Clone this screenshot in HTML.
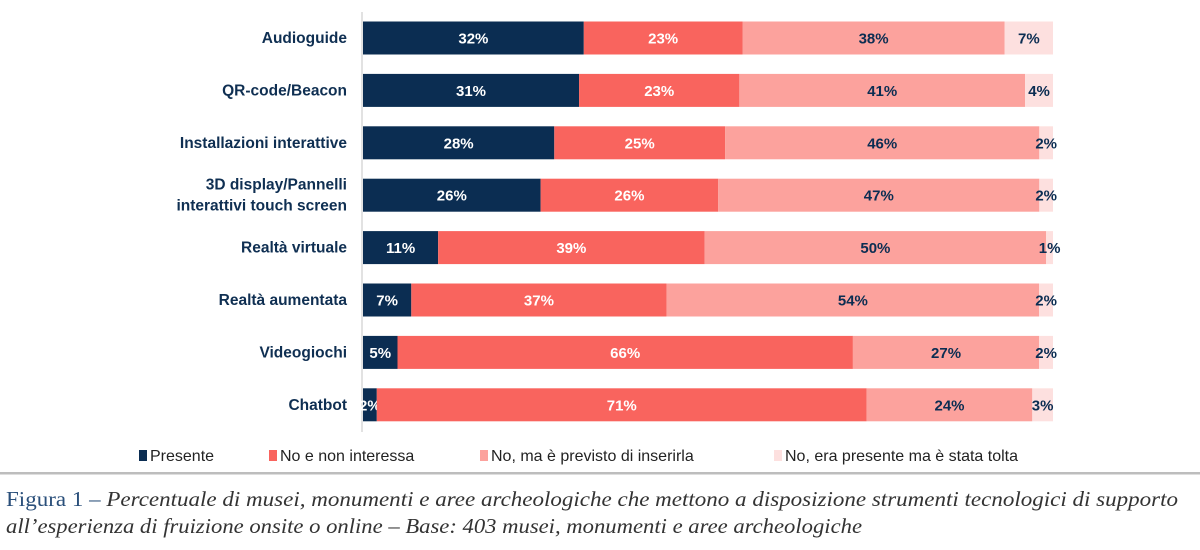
<!DOCTYPE html>
<html><head><meta charset="utf-8"><style>
html,body{margin:0;padding:0;background:#fff;width:1200px;height:550px;overflow:hidden}
svg text{font-family:"Liberation Sans",sans-serif}
</style></head><body>
<svg id="chart" width="1200" height="550"></svg>
<script>
const categories=["Audioguide","QR-code/Beacon","Installazioni interattive","3D display/Pannelli|interattivi touch screen","Realtà virtuale","Realtà aumentata","Videogiochi","Chatbot"];
const presente=[32,31,28,26,11,7,5,2];
const nonInteressa=[23,23,25,26,39,37,66,71];
const previsto=[38,41,46,47,50,54,27,24];
const tolta=[7,4,2,2,1,2,2,3];
const seriesNames=["Presente","No e non interessa","No, ma è previsto di inserirla","No, era presente ma è stata tolta"];
const colors=["#0b2d52","#f9645e","#fca29d","#fde0df"];
const textColors=["#fff","#fff","#0b2d52","#0b2d52"];
const svg=document.getElementById('chart');
const NS="http://www.w3.org/2000/svg";
const x0=363,plotW=690,top0=38,step=52.4,barH=33;
const xs=v=>v/100*plotW;
const yc=i=>top0+i*step;
function el(t,a){const e=document.createElementNS(NS,t);for(const k in a)e.setAttribute(k,a[k]);svg.appendChild(e);return e;}
const ax=el('line',{x1:x0-1,x2:x0-1,y1:12,y2:432,stroke:'#d9d9d9','stroke-width':1.5});


const series=[presente,nonInteressa,previsto,tolta];
categories.forEach((c,i)=>{
  const lines=c.split('|');
  lines.forEach((ln,j)=>{
    const t=el('text',{x:347,y:yc(i)+5+(j-(lines.length-1)/2)*21,'text-anchor':'end','font-size':15.5,'font-weight':'bold',fill:'#0f2f52'});
    t.textContent=ln;
    
    
  });
  const sum=series.reduce((s,a)=>s+a[i],0);
  let acc=0;
  series.forEach((arr,k)=>{
    const v=arr[i]*100/sum;
    const r=el('rect',{x:x0+xs(acc),y:yc(i)-barH/2,width:xs(v),height:barH,fill:colors[k]});
    
    
    const t=el('text',{x:x0+xs(acc+v/2),y:yc(i)+5.5,'text-anchor':'middle','font-size':15,'font-weight':'bold',fill:textColors[k]});
    t.textContent=arr[i]+'%';
    
    
    acc+=v;
  });
});
const legX=[139,269,480,774];
seriesNames.forEach((n,k)=>{
  const r=el('rect',{x:legX[k],y:450,width:8,height:11,fill:colors[k]});
  
  
  const t=el('text',{x:legX[k]+11,y:461,'font-size':16,fill:'#222'});
  t.textContent=n;
  
  
});
const hr=el('rect',{x:0,y:472,width:1200,height:2.5,fill:'#bdbdbd'});


const cap=[["Figura 1 – ","Percentuale di musei, monumenti e aree archeologiche che mettono a disposizione strumenti tecnologici di supporto"],["","all’esperienza di fruizione onsite o online – Base: 403 musei, monumenti e aree archeologiche"]];
const capLen=[1172,856];
cap.forEach((c,j)=>{
  const t=el('text',{x:6,y:506+j*27,'font-size':21,fill:'#333',textLength:capLen[j],lengthAdjust:'spacingAndGlyphs'});
  
  
  t.style.fontFamily='"Liberation Serif",serif';
  if(c[0]){const a=document.createElementNS(NS,'tspan');a.setAttribute('fill','#2a4f7a');a.textContent=c[0];t.appendChild(a);}
  const b=document.createElementNS(NS,'tspan');b.setAttribute('font-style','italic');b.textContent=c[1];t.appendChild(b);
});
</script>
</body></html>
